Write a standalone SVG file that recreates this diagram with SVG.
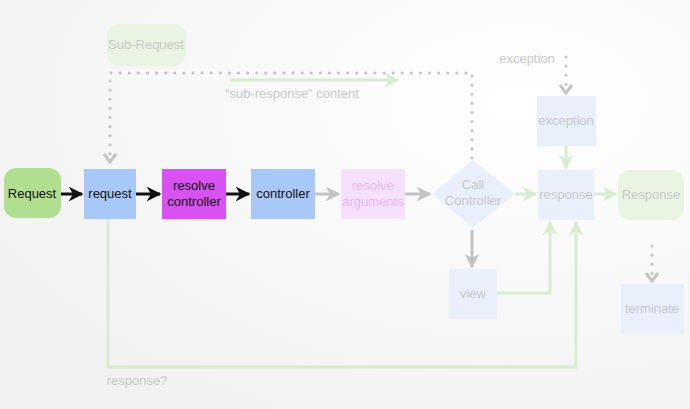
<svg xmlns="http://www.w3.org/2000/svg" width="690" height="409" viewBox="0 0 690 409">
<defs>
<radialGradient id="bg" cx="0.75" cy="0.25" r="0.9"><stop offset="0" stop-color="#ffffff"/><stop offset="1" stop-color="#f1f1f1"/></radialGradient>
<marker id="ak" viewBox="0 0 10 10" refX="9" refY="5" markerWidth="5" markerHeight="5" orient="auto"><path d="M0,0 L10,5 L0,10 L3,5 Z" fill="#111"/></marker>
<marker id="ag" viewBox="0 0 10 10" refX="9" refY="5" markerWidth="5" markerHeight="5" orient="auto"><path d="M0,0 L10,5 L0,10 L3,5 Z" fill="#c4c4c4"/></marker>
<marker id="agr" viewBox="0 0 10 10" refX="9" refY="5" markerWidth="5" markerHeight="5" orient="auto"><path d="M0,0 L10,5 L0,10 L3,5 Z" fill="#d8ecd0"/></marker>
</defs>
<style>
text{font-family:"Liberation Sans",Arial,sans-serif;font-size:13px;text-anchor:middle}
.k{stroke:#111;stroke-width:3;fill:none;marker-end:url(#ak)}
.g{stroke:#c4c4c4;stroke-width:3;fill:none;marker-end:url(#ag)}
.gr{stroke:#d8ecd0;stroke-width:3;fill:none}
.d{stroke:#c4c4c4;stroke-width:3;fill:none;stroke-dasharray:0.1 9;stroke-linecap:round}
.pale{fill:#e9f0fc}
.ft{fill:#c8c8c8}
</style>
<rect width="690" height="409" fill="url(#bg)"/>
<g id="connectors">
<line class="k" x1="61" y1="194" x2="82" y2="194"/>
<line class="k" x1="136" y1="194" x2="160" y2="194"/>
<line class="k" x1="226" y1="194" x2="249" y2="194"/>
<line class="g" x1="315" y1="194" x2="339" y2="194"/>
<line class="g" x1="405" y1="194" x2="430" y2="194"/>
<line class="g" x1="472" y1="230" x2="472" y2="267"/>
<line class="gr" x1="515" y1="194" x2="536" y2="194" marker-end="url(#agr)"/>
<line class="gr" x1="594" y1="194" x2="616" y2="194" marker-end="url(#agr)"/>
<line class="gr" x1="566" y1="146" x2="566" y2="168" marker-end="url(#agr)"/>
<polyline class="gr" points="472,293 550,293 550,222" marker-end="url(#agr)"/>
<polyline class="gr" points="108,219 108,367 576,367 576,222" marker-end="url(#agr)"/>
<line class="gr" x1="230" y1="80" x2="398" y2="80" marker-end="url(#agr)"/>
<polyline class="d" points="472,158 472,73 110,73 110,158"/>
<path d="M104,154 L110,162 L116,154" fill="none" stroke="#c4c4c4" stroke-width="3"/>
<line class="d" x1="566" y1="57" x2="566" y2="88"/>
<path d="M560,85 L566,93 L572,85" fill="none" stroke="#c4c4c4" stroke-width="3"/>
<line class="d" x1="652" y1="246" x2="652" y2="276"/>
<path d="M646,273 L652,281 L658,273" fill="none" stroke="#c4c4c4" stroke-width="3"/>
<text x="292" y="98" class="ft">“sub-response” content</text>
<text x="527" y="63" class="ft">exception</text>
<text x="137" y="385" class="ft">response?</text>
</g>
<g id="Request"><rect x="4" y="168" width="57" height="50" rx="12" fill="#b0df90"/><text x="32" y="198" fill="#111">Request</text></g>
<g id="request"><rect x="84" y="169" width="52" height="50" fill="#a8c8f8"/><text x="110" y="198" fill="#111">request</text></g>
<g id="resolve-controller"><rect x="162" y="169" width="64" height="50" fill="#d752f0"/><text x="194" y="190" fill="#111">resolve</text><text x="194" y="206" fill="#111" font-size="12">controller</text></g>
<g id="controller"><rect x="251" y="169" width="64" height="50" fill="#a8c8f8"/><text x="283" y="198" fill="#111">controller</text></g>
<g id="resolve-arguments"><rect x="341" y="169" width="64" height="50" fill="#f7e0fb"/><text x="373" y="190" fill="#e6b8ef">resolve</text><text x="373" y="206" fill="#e6b8ef" font-size="12">arguments</text></g>
<g id="call-controller"><polygon points="473,160 515,194 473,228 432,194" class="pale"/><text x="473" y="189" class="ft">Call</text><text x="473" y="205" class="ft" font-size="12">Controller</text></g>
<g id="response"><rect x="538" y="170" width="56" height="50" class="pale"/><text x="566" y="199" class="ft">response</text></g>
<g id="exception"><rect x="537" y="96" width="59" height="50" class="pale"/><text x="566" y="125" class="ft">exception</text></g>
<g id="Response"><rect x="618" y="170" width="66" height="50" rx="12" fill="#e9f5e2"/><text x="651" y="199" class="ft">Response</text></g>
<g id="view"><rect x="449" y="269" width="48" height="50" class="pale"/><text x="473" y="298" class="ft">view</text></g>
<g id="terminate"><rect x="621" y="284" width="63" height="50" class="pale"/><text x="652" y="313" class="ft">terminate</text></g>
<g id="Sub-Request"><rect x="107" y="24" width="79" height="42" rx="12" fill="#e9f5e2"/><text x="146" y="49" class="ft">Sub-Request</text></g>
</svg>
